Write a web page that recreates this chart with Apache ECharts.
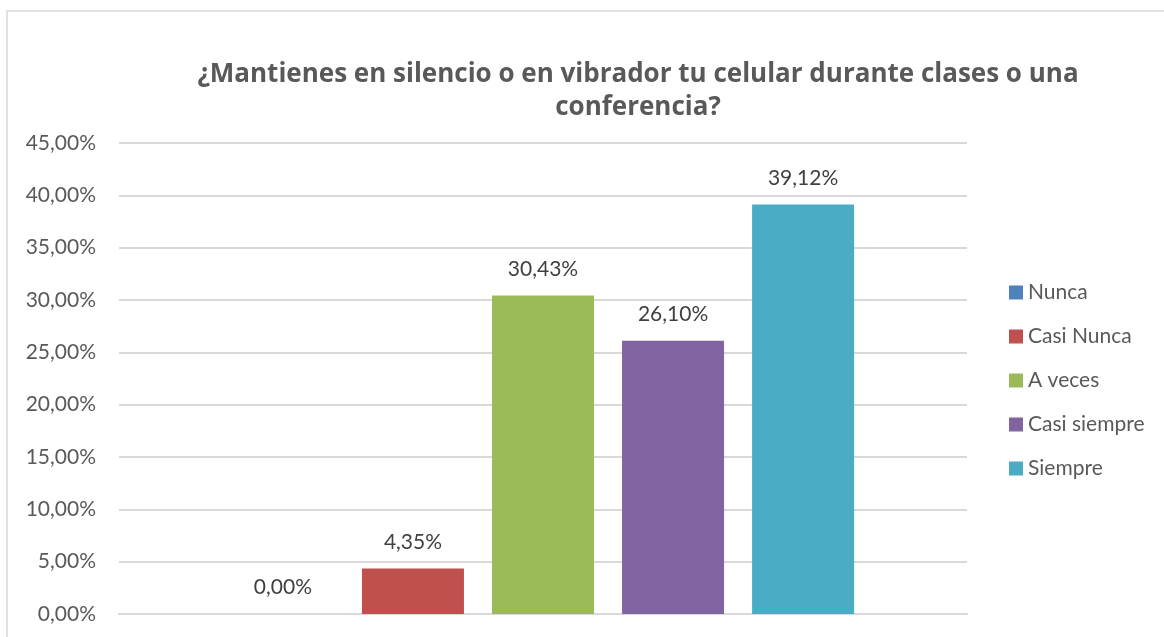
<!DOCTYPE html>
<html>
<head>
<meta charset="utf-8">
<script src="https://cdn.jsdelivr.net/npm/echarts@6/dist/echarts.min.js"></script>
<style>
  html, body { margin: 0; padding: 0; background: #fff; }
  #chart { width: 1164px; height: 637px; }
</style>
</head>
<body>
<div id="chart"></div>
<script>
// datos
const seriesNames = ['Nunca', 'Casi Nunca', 'A veces', 'Casi siempre', 'Siempre']
const seriesValues = [0, 4.35, 30.43, 26.10, 39.12]
const seriesColors = ['#4F81BD', '#C0504D', '#9BBB59', '#8064A2', '#4BACC6']
const categories = ['']

const fontFamily = 'Lato, "Open Sans", sans-serif'
const titleFont = '"Open Sans", Lato, sans-serif'
const pct = (v) => Number(v).toFixed(2).replace('.', ',') + '%'

const chart = echarts.init(document.getElementById('chart'))

const option = {
  animation: false,
  textStyle: { fontFamily },
  title: {
    text: '¿Mantienes en silencio o en vibrador tu celular durante clases o una\nconferencia?',
    left: 633,
    top: 53,
    textAlign: 'center',
    textStyle: {
      fontFamily: titleFont,
      fontSize: 26,
      fontWeight: 'bold',
      color: '#595959',
      lineHeight: 33
    }
  },
  legend: {
    orient: 'vertical',
    left: 1004,
    top: 277,
    icon: 'rect',
    itemWidth: 14,
    itemHeight: 14,
    itemGap: 23,
    textStyle: { fontFamily, fontSize: 21, color: '#595959' },
    data: seriesNames
  },
  grid: {
    left: 119,
    right: 197,
    top: 143,
    bottom: 23,
    containLabel: false
  },
  xAxis: {
    type: 'category',
    data: categories,
    axisLine: { show: true, lineStyle: { color: '#d9d9d9', width: 2 } },
    axisTick: { show: false },
    axisLabel: { show: false }
  },
  yAxis: {
    type: 'value',
    min: 0,
    max: 45,
    interval: 5,
    axisLine: { show: false },
    axisTick: { show: false },
    axisLabel: {
      formatter: pct,
      margin: 23,
      fontFamily,
      fontSize: 21,
      color: '#595959'
    },
    splitLine: { lineStyle: { color: '#d9d9d9', width: 2 } }
  },
  series: seriesNames.map((name, i) => ({
    name,
    type: 'bar',
    data: [seriesValues[i]],
    barWidth: 102,
    barGap: '27.5%',
    itemStyle: { color: seriesColors[i] },
    label: {
      show: true,
      position: 'top',
      distance: 16,
      formatter: (p) => pct(p.value),
      fontFamily,
      fontSize: 21,
      color: '#404040'
    }
  })),
  graphic: [
    {
      type: 'rect',
      shape: { x: 7, y: 11, width: 1200, height: 700 },
      style: { fill: 'none', stroke: '#d9d9d9', lineWidth: 1.5 },
      silent: true,
      z: -1
    }
  ]
}

chart.setOption(option)
</script>
</body>
</html>
